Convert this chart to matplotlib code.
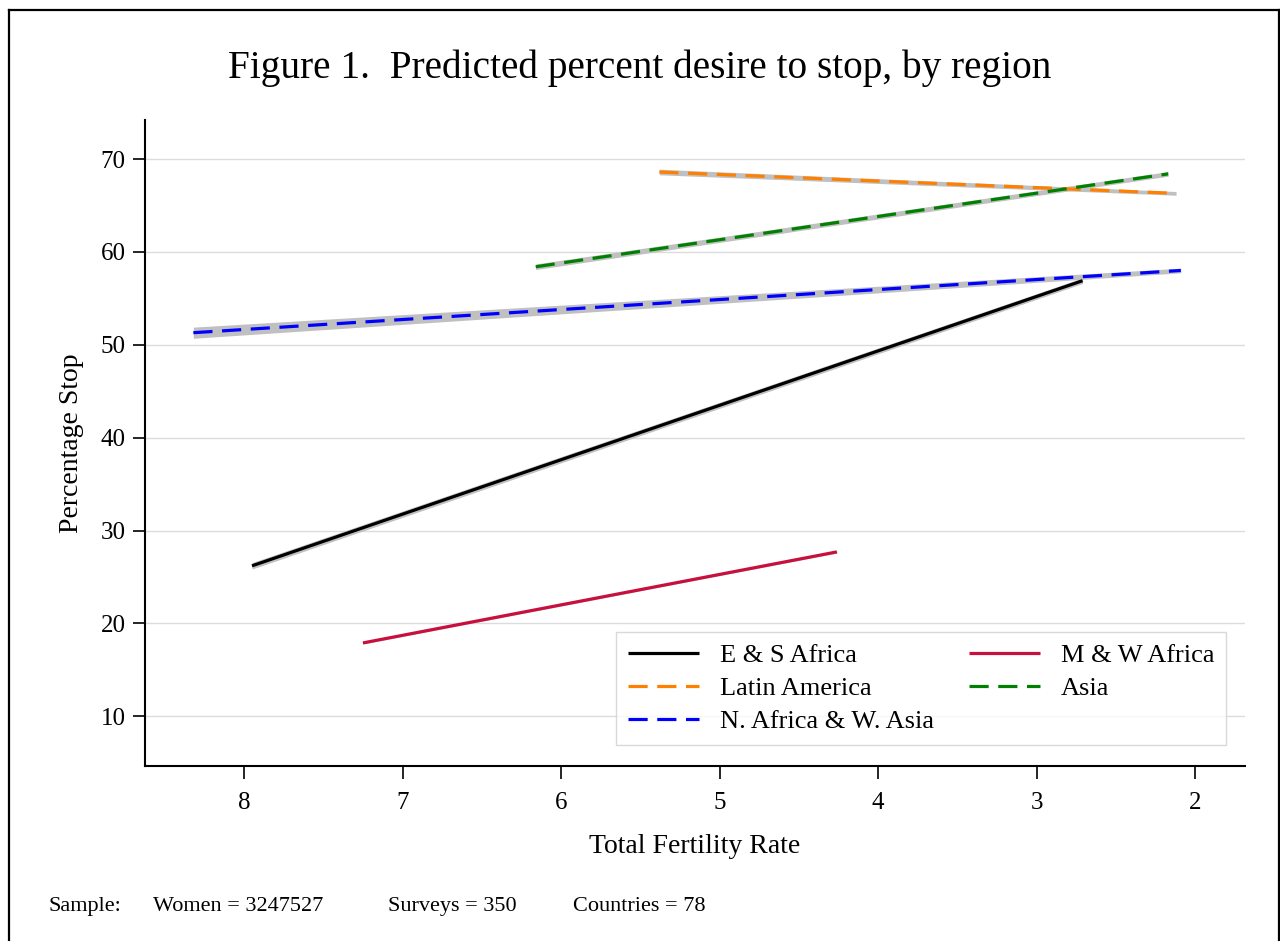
import matplotlib
matplotlib.use("Agg")
import matplotlib.pyplot as plt
from matplotlib.lines import Line2D
import numpy as np

# predicted percent wanting to stop, endpoints of each regional fit (TFR, %)
REGIONS = ["E & S Africa", "M & W Africa", "Latin America", "Asia", "N. Africa & W. Asia"]
TFR = {
    "E & S Africa": [7.95, 2.71],
    "M & W Africa": [7.25, 4.26],
    "Latin America": [5.38, 2.12],
    "Asia": [6.16, 2.17],
    "N. Africa & W. Asia": [8.32, 2.09],
}
PSTOP = {
    "E & S Africa": [26.2, 56.9],
    "M & W Africa": [17.9, 27.7],
    "Latin America": [68.6, 66.3],
    "Asia": [58.4, 68.4],
    "N. Africa & W. Asia": [51.3, 58.0],
}
# half-width of the 95% band at each end
CI_HALF = {
    "E & S Africa": [0.35, 0.3],
    "M & W Africa": [0.12, 0.12],
    "Latin America": [0.3, 0.2],
    "Asia": [0.3, 0.25],
    "N. Africa & W. Asia": [0.6, 0.25],
}
X_TICKS = [8, 7, 6, 5, 4, 3, 2]
Y_TICKS = [10, 20, 30, 40, 50, 60, 70]
SAMPLE = [("Sample:", 48), ("Women = 3247527", 153), ("Surveys = 350", 388), ("Countries = 78", 573)]

STYLE = {
    "E & S Africa": dict(color="black", ls="-"),
    "M & W Africa": dict(color="#c8103e", ls="-"),
    "Latin America": dict(color="#ff8000", ls=(0, (6, 3))),
    "Asia": dict(color="#008000", ls=(0, (6, 3))),
    "N. Africa & W. Asia": dict(color="#0000ff", ls=(0, (6, 3))),
}
SERIF = ["Liberation Serif", "DejaVu Serif"]
plt.rcParams["font.family"] = SERIF

W, H = 1280, 941
fig = plt.figure(figsize=(W / 100, H / 100), dpi=100)
fig.patch.set_facecolor("white")
ax = fig.add_axes([145 / W, 1 - 766 / H, 1100 / W, (766 - 120) / H])

for r in REGIONS:
    x = np.array(TFR[r]); y = np.array(PSTOP[r]); h = np.array(CI_HALF[r])
    ax.fill_between(x, y - h, y + h, color="#c0c0c0", lw=0, zorder=2)
for r in REGIONS:
    ax.plot(TFR[r], PSTOP[r], lw=2.3, solid_capstyle="butt", dash_capstyle="butt",
            zorder=3, label=r, **STYLE[r])

ax.set_xlim(8.625, 1.685)
ax.set_ylim(4.65, 74.2)
ax.set_xticks(X_TICKS)
ax.set_yticks(Y_TICKS)
ax.tick_params(axis="both", direction="out", length=9, width=1.2, labelsize=18)
ax.tick_params(axis="x", pad=10)
ax.tick_params(axis="y", pad=5)
ax.grid(axis="y", color="#dcdcdc", lw=1.0, zorder=0)
ax.set_axisbelow(True)
for s in ("top", "right"):
    ax.spines[s].set_visible(False)
for s in ("left", "bottom"):
    ax.spines[s].set_linewidth(1.5)

ax.set_xlabel("Total Fertility Rate", fontsize=20, labelpad=14)
ax.set_ylabel("Percentage Stop", fontsize=20, labelpad=12)

handles = {l.get_label(): l for l in ax.get_lines()}
order = ["E & S Africa", "Latin America", "N. Africa & W. Asia", "M & W Africa", "Asia"]
leg = ax.legend([handles[k] for k in order], order, ncol=2, loc="lower right",
                bbox_to_anchor=(0.983, 0.033), borderaxespad=0, fontsize=19,
                frameon=True, fancybox=False, edgecolor="#d0d0d0", handlelength=2.7,
                handletextpad=0.8, columnspacing=1.3, labelspacing=0.36,
                borderpad=0.45)
leg.get_frame().set_linewidth(1.0)

fig.text(640 / W, 1 - 68 / H, "Figure 1.  Predicted percent desire to stop, by region",
         ha="center", va="center", fontsize=28.3)
for txt, px in SAMPLE:
    fig.text(px / W, 1 - 911 / H, txt, ha="left", va="baseline", fontsize=16)

# outer frame (left, top, right)
frame = dict(color="black", lw=1.6, transform=fig.transFigure)
fig.add_artist(Line2D([9 / W, 9 / W], [0, 1 - 10 / H], **frame))
fig.add_artist(Line2D([9 / W, 1278.5 / W], [1 - 10 / H, 1 - 10 / H], **frame))
fig.add_artist(Line2D([1278.5 / W, 1278.5 / W], [0, 1 - 10 / H], **frame))

fig.savefig("out.png", dpi=100)
